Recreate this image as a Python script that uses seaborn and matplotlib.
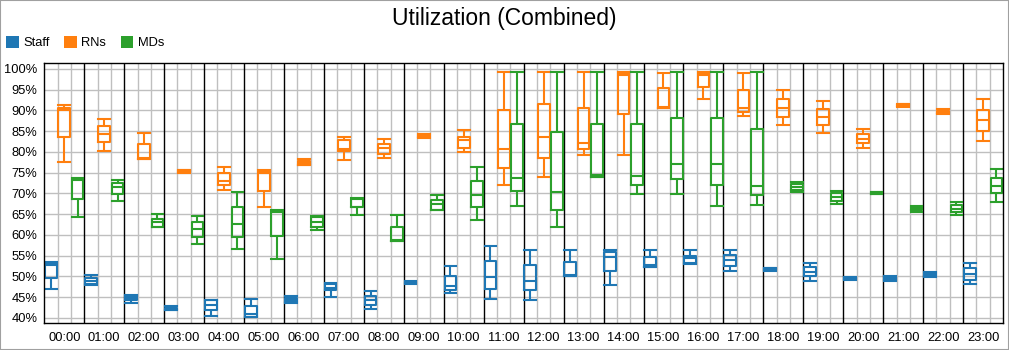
import numpy as np
import pandas as pd
import matplotlib
matplotlib.use("Agg")
import matplotlib.pyplot as plt
import seaborn as sns
from matplotlib.patches import Patch, Rectangle
from matplotlib.ticker import FuncFormatter, MultipleLocator, FixedLocator

# ---------------- data (min, q1, median, q3, max) per hour ----------------
hours = ["00:00", "01:00", "02:00", "03:00", "04:00", "05:00", "06:00", "07:00",
         "08:00", "09:00", "10:00", "11:00", "12:00", "13:00", "14:00", "15:00",
         "16:00", "17:00", "18:00", "19:00", "20:00", "21:00", "22:00", "23:00"]
series_names = ["Staff", "RNs", "MDs"]
series_colors = ["#1f77b4", "#ff7f0e", "#2ca02c"]

staff = [
    (46.9, 49.6, 52.8, 53.2, 53.4),
    (48.0, 48.2, 49.0, 49.6, 50.4),
    (43.7, 44.3, 44.8, 45.2, 45.4),
    (41.9, 42.0, 42.2, 42.4, 42.8),
    (40.4, 42.0, 43.2, 44.2, 44.3),
    (40.1, 40.2, 40.9, 42.9, 44.6),
    (43.5, 43.8, 44.3, 44.7, 45.2),
    (45.0, 46.6, 47.2, 48.1, 48.3),
    (42.2, 43.0, 44.3, 45.2, 46.4),
    (48.2, 48.3, 48.5, 48.7, 48.8),
    (45.9, 46.8, 47.6, 50.0, 52.4),
    (44.6, 47.0, 49.8, 53.6, 57.4),
    (44.4, 46.8, 49.0, 52.8, 56.4),
    (50.2, 50.2, 50.4, 53.4, 56.4),
    (48.0, 51.4, 54.6, 55.8, 56.4),
    (52.2, 52.3, 52.7, 54.6, 56.4),
    (53.0, 53.2, 54.4, 55.0, 56.4),
    (51.4, 52.4, 54.0, 55.2, 56.4),
    (51.4, 51.5, 51.7, 51.9, 52.1),
    (49.0, 50.0, 51.0, 52.2, 53.2),
    (49.2, 49.3, 49.5, 49.6, 49.8),
    (49.0, 49.2, 49.5, 49.8, 50.0),
    (49.8, 50.1, 50.4, 50.7, 51.0),
    (48.2, 49.2, 50.6, 52.0, 53.2),
]

rns = [
    (77.6, 83.6, 90.0, 90.5, 91.2),
    (80.2, 82.4, 84.4, 86.2, 87.8),
    (78.2, 78.2, 78.6, 81.8, 84.6),
    (75.0, 75.1, 75.3, 75.5, 75.6),
    (70.8, 72.0, 73.0, 74.8, 76.4),
    (66.6, 70.6, 75.0, 75.4, 75.5),
    (76.8, 76.8, 77.2, 77.8, 78.2),
    (78.0, 80.3, 80.7, 82.8, 83.6),
    (78.6, 79.4, 80.8, 81.8, 83.0),
    (83.4, 83.6, 83.9, 84.1, 84.3),
    (79.9, 81.0, 82.8, 83.6, 85.2),
    (72.0, 76.2, 80.6, 90.0, 99.2),
    (74.0, 78.6, 83.6, 91.6, 99.2),
    (79.2, 80.6, 82.2, 90.6, 99.2),
    (79.2, 89.2, 98.6, 99.0, 99.2),
    (90.6, 90.6, 90.8, 95.4, 99.0),
    (92.6, 95.6, 98.4, 99.0, 99.2),
    (88.6, 89.6, 90.6, 95.0, 99.0),
    (86.4, 88.4, 90.6, 92.8, 94.8),
    (84.6, 86.4, 88.4, 90.4, 92.2),
    (80.8, 82.0, 83.2, 84.4, 85.6),
    (90.8, 91.0, 91.2, 91.4, 91.6),
    (89.0, 89.3, 89.6, 89.9, 90.2),
    (82.6, 85.0, 87.6, 90.0, 92.8),
]

mds = [
    (64.2, 68.7, 73.2, 73.4, 73.6),
    (68.2, 69.9, 71.6, 72.6, 73.2),
    (62.0, 62.0, 63.2, 63.8, 65.0),
    (57.9, 59.6, 61.4, 63.2, 64.6),
    (56.6, 59.6, 62.6, 66.6, 70.4),
    (54.2, 59.8, 65.4, 65.8, 65.9),
    (61.2, 62.0, 63.0, 64.2, 64.6),
    (64.9, 66.6, 66.8, 68.7, 68.8),
    (58.4, 58.4, 58.8, 61.8, 64.8),
    (65.9, 65.9, 67.4, 68.5, 69.7),
    (63.6, 66.6, 69.6, 73.0, 76.4),
    (67.0, 70.6, 73.8, 86.8, 99.2),
    (62.0, 66.0, 70.2, 84.8, 99.2),
    (74.0, 74.0, 74.4, 86.8, 99.2),
    (69.8, 72.0, 74.2, 86.8, 99.2),
    (69.8, 73.4, 77.0, 88.2, 99.2),
    (67.0, 72.0, 77.0, 88.2, 99.2),
    (67.2, 69.6, 71.8, 85.4, 99.2),
    (70.2, 70.8, 71.6, 72.2, 72.8),
    (67.4, 68.2, 69.0, 70.0, 70.6),
    (69.8, 69.9, 70.1, 70.2, 70.4),
    (65.6, 65.9, 66.3, 66.7, 67.0),
    (64.8, 65.4, 66.2, 67.2, 68.0),
    (68.0, 70.0, 71.8, 73.8, 75.8),
]

# long-form table: the five summary values per box reproduce the stats exactly
rows = []
for name, stats in zip(series_names, [staff, rns, mds]):
    for hour, five in zip(hours, stats):
        for v in five:
            rows.append({"hour": hour, "series": name, "value": v})
df = pd.DataFrame(rows)

# ---------------- figure ----------------
plt.rcParams["font.family"] = ["Liberation Sans", "DejaVu Sans"]
fig = plt.figure(figsize=(10.09, 3.5), dpi=100)
ax = fig.add_axes([0.0439, 0.0763, 0.9502, 0.7427])

box_w = 1.0 / 3 * 0.88
sns.boxplot(data=df, x="hour", y="value", hue="series", order=hours,
            hue_order=series_names, palette=series_colors, fill=False,
            width=1.0, gap=0.12, whis=(0, 100), linewidth=1.5,
            capwidths=box_w, legend=False, ax=ax)

n = len(hours)
ax.set_xlim(-0.5, n - 0.5)
ax.set_ylim(38.7, 101.3)

# grid: gray at every 5% and at thirds of each category; black category boundaries
ax.yaxis.set_major_locator(MultipleLocator(5))
ax.yaxis.set_major_formatter(FuncFormatter(lambda v, _: f"{v:.0f}%"))
ax.set_xticks(range(n))
ax.set_xticklabels(hours)
minor = [k - 0.5 + f for k in range(n) for f in (1 / 3, 2 / 3)]
ax.xaxis.set_minor_locator(FixedLocator(minor))
ax.set_axisbelow(True)
ax.grid(axis="y", which="major", color="#bfbfbf", lw=1.0, zorder=0)
ax.grid(axis="x", which="minor", color="#bfbfbf", lw=1.0, zorder=0)
ax.grid(axis="x", which="major", visible=False)
for k in range(n - 1):
    ax.axvline(k + 0.5, color="black", lw=1.0, zorder=1)

ax.tick_params(axis="both", which="both", length=0, labelsize=9.3, colors="black")
ax.tick_params(axis="y", pad=5)
ax.tick_params(axis="x", pad=6)
ax.set_xlabel("")
ax.set_ylabel("")
for s in ax.spines.values():
    s.set_color("black")
    s.set_linewidth(1.0)

# title and legend
fig.text(0.5, 1 - 18 / 350, "Utilization (Combined)", ha="center", va="center",
         fontsize=16.5, color="black")
handles = [Patch(facecolor=c, edgecolor="none") for c in series_colors]
fig.legend(handles, series_names, loc="upper left",
           bbox_to_anchor=(6 / 1009, 1 - 36 / 350), ncol=3, frameon=False,
           fontsize=9.3, handlelength=1.0, handleheight=1.0, handletextpad=0.35,
           columnspacing=1.1, borderpad=0, borderaxespad=0)

# outer gray border
fig.patches.append(Rectangle((0, 0), 1, 1, transform=fig.transFigure,
                             fill=False, edgecolor="#a0a0a0", lw=1.5))

fig.savefig("out.png", dpi=100)
